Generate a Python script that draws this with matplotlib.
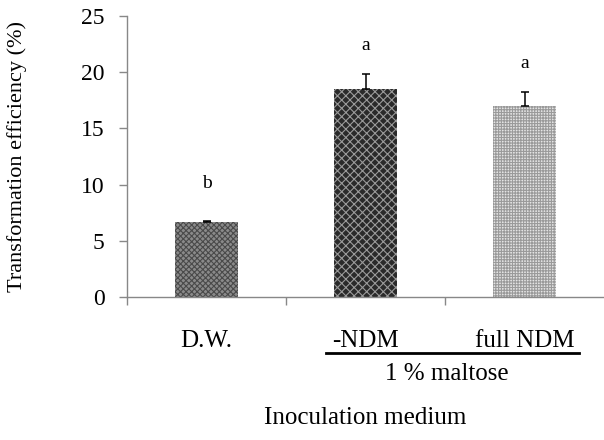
import numpy as np
import matplotlib.pyplot as plt
from matplotlib.transforms import blended_transform_factory

plt.rcParams['font.family'] = ['Liberation Serif', 'DejaVu Serif']
plt.rcParams['hatch.linewidth'] = 0.8

# data
media = ['D.W.', '-NDM', 'full NDM']
efficiency = [6.65, 18.5, 16.95]
err = [0.08, 1.3, 1.3]
letters = ['b', 'a', 'a']
letter_y = [10.1, 22.4, 20.8]

faces = ['#8a8a8a', '#2a2a2a', '#e4e4e4']
hatch_cols = ['#4a4a4a', '#9a9a9a', '#9a9a9a']
hatches = ['xxxxxx', 'xxxx', '++++++']

fig = plt.figure(figsize=(6.04, 4.4), dpi=100)
ax = fig.add_axes([0.2103, 0.325, 0.7897, 0.6386])

x = np.arange(len(media))
for i in x:
    ax.bar(x[i], efficiency[i], width=0.4, color=faces[i], edgecolor=hatch_cols[i],
           hatch=hatches[i], linewidth=0)
ax.errorbar(x, efficiency, yerr=[np.zeros(len(err)), err], fmt='none',
            ecolor='black', elinewidth=1.1, capsize=3, capthick=1.1)

for i in x:
    ax.text(x[i], letter_y[i], letters[i], ha='center', va='center', fontsize=14)

ax.set_xlim(-0.5, 2.5)
ax.set_ylim(0, 25)
ax.set_yticks([0, 5, 10, 15, 20, 25])
ax.set_xticks(x)
ax.set_xticklabels(media)
ax.set_xticks([-0.5, 0.5, 1.5], minor=True)
ax.tick_params(axis='x', which='major', length=0, labelsize=18, pad=24)
ax.tick_params(axis='x', which='minor', length=6, color='#888888', width=1)
ax.tick_params(axis='y', length=6, color='#888888', width=1, labelsize=17, pad=10)

for s in ['top', 'right']:
    ax.spines[s].set_visible(False)
for s in ['left', 'bottom']:
    ax.spines[s].set_color('#888888')
    ax.spines[s].set_linewidth(1)

ax.set_ylabel('Transformation efficiency (%)', fontsize=16, labelpad=39)

# group bracket for the maltose media
tr = blended_transform_factory(ax.transData, ax.transAxes)
ax.plot([0.75, 2.34], [-0.199, -0.199], color='black', lw=2, transform=tr, clip_on=False)
ax.text(1.51, -0.275, '1 % maltose', transform=tr, ha='center', va='center', fontsize=18)
ax.text(1.0, -0.43, 'Inoculation medium', transform=tr, ha='center', va='center', fontsize=18)

fig.savefig('out.png', dpi=100)
